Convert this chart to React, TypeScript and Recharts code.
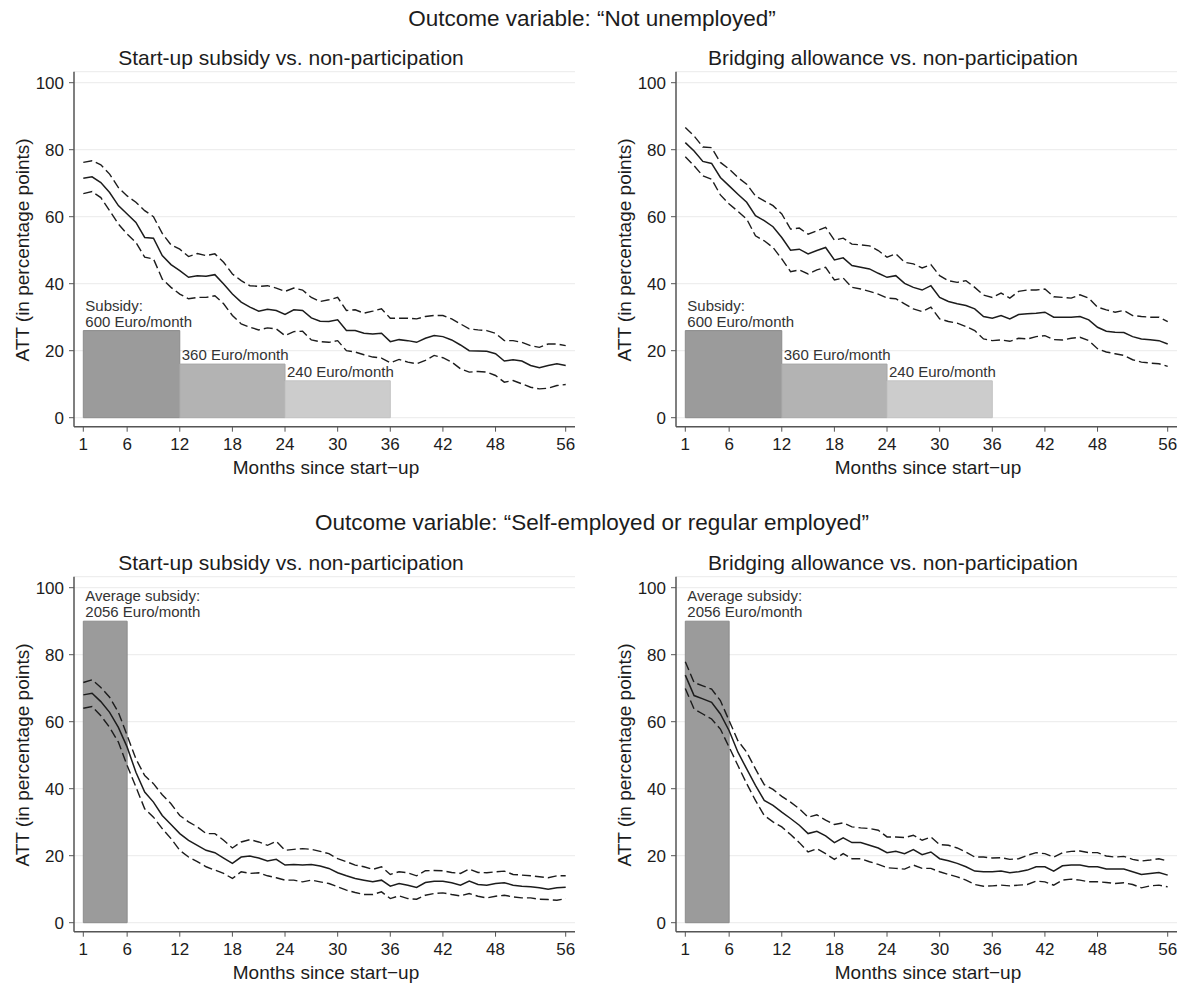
import React from "react"
import { ComposedChart, Line, XAxis, YAxis, CartesianGrid, ReferenceArea } from "recharts"

// months since start-up (x categories)
const MONTHS = [
  1, 2, 3, 4, 5, 6, 7, 8, 9, 10, 11, 12, 13, 14, 15, 16, 17, 18, 19, 20, 21, 22, 23, 24, 25, 26, 27, 28,
  29, 30, 31, 32, 33, 34, 35, 36, 37, 38, 39, 40, 41, 42, 43, 44, 45, 46, 47, 48, 49, 50, 51, 52, 53, 54, 55, 56,
]
const X_TICKS = [1, 6, 12, 18, 24, 30, 36, 42, 48, 56]
const Y_TICKS = [0, 20, 40, 60, 80, 100]

// "Not unemployed" – start-up subsidy
const NU_SUB_ATT = [
  71.5, 71.9, 70.2, 67.2, 63.3, 60.8, 58.3, 53.8, 53.6, 48.4, 45.7, 43.9, 41.9, 42.4, 42.2, 42.7, 39.9, 36.9, 34.5, 33.0,
  31.8, 32.4, 32.0, 30.8, 32.2, 32.0, 29.8, 28.8, 28.7, 29.2, 26.0, 26.0, 25.2, 25.0, 25.2, 22.7, 23.3, 23.0, 22.5, 23.7,
  24.5, 24.2, 23.2, 21.7, 20.0, 19.9, 19.8, 19.1, 16.9, 17.3, 16.9, 15.6, 14.9, 15.6, 16.1, 15.6,
]
const NU_SUB_HI = [
  76.2, 76.7, 75.5, 72.7, 68.7, 66.2, 64.3, 61.8, 60.0, 55.0, 51.6, 50.3, 48.1, 49.0, 48.4, 48.9, 46.4, 42.9, 40.9, 39.4,
  39.2, 39.4, 38.7, 37.7, 38.7, 38.1, 35.9, 34.7, 35.2, 35.9, 32.0, 32.2, 31.2, 31.8, 32.5, 29.7, 29.7, 29.7, 29.5, 30.2,
  30.5, 30.5, 29.5, 28.0, 26.5, 26.2, 26.0, 25.2, 23.0, 23.0, 22.5, 21.5, 21.0, 22.0, 22.0, 21.5,
]
const NU_SUB_LO = [
  66.9, 67.5, 65.7, 61.8, 57.8, 54.8, 52.3, 47.9, 47.4, 41.4, 38.9, 36.9, 35.5, 35.9, 35.9, 36.4, 34.0, 30.5, 28.0, 27.0,
  26.2, 26.8, 26.5, 24.5, 25.7, 25.8, 23.2, 22.7, 22.5, 23.0, 20.0, 19.6, 18.8, 18.1, 17.8, 16.4, 17.4, 16.6, 16.1, 17.1,
  18.6, 17.9, 16.6, 14.6, 13.6, 13.8, 13.6, 12.6, 10.6, 11.1, 10.1, 9.1, 8.6, 8.8, 9.6, 9.9,
]

// "Not unemployed" – bridging allowance
const NU_BRI_ATT = [
  82.1, 79.6, 76.5, 75.9, 71.7, 69.2, 66.7, 64.3, 60.3, 58.8, 57.0, 53.8, 50.0, 50.3, 48.9, 49.9, 50.8, 47.1, 47.7, 45.4,
  44.9, 44.4, 43.1, 41.9, 42.4, 40.1, 38.9, 38.1, 39.4, 35.9, 34.7, 34.0, 33.5, 32.5, 30.2, 29.7, 30.5, 29.5, 30.8, 31.0,
  31.2, 31.5, 30.0, 30.0, 30.0, 30.2, 29.2, 27.0, 25.8, 25.5, 25.4, 24.2, 23.5, 23.3, 23.0, 22.0,
]
const NU_BRI_HI = [
  86.6, 84.1, 80.8, 80.6, 76.2, 74.2, 71.7, 69.7, 66.2, 64.7, 63.3, 60.8, 56.3, 56.6, 54.8, 55.8, 56.8, 53.0, 53.6, 51.8,
  51.6, 51.3, 49.9, 47.9, 48.9, 46.4, 45.9, 44.7, 45.7, 42.4, 40.9, 40.4, 40.9, 38.9, 36.6, 35.9, 37.2, 35.7, 37.7, 38.1,
  38.1, 38.4, 36.1, 35.9, 35.7, 36.7, 35.7, 33.0, 32.2, 31.5, 32.0, 30.5, 30.2, 30.0, 30.0, 28.7,
]
const NU_BRI_LO = [
  77.9, 75.2, 72.2, 71.2, 66.5, 63.8, 61.6, 59.3, 54.3, 52.8, 50.8, 47.4, 43.6, 44.1, 42.9, 44.1, 44.9, 41.1, 41.7, 38.9,
  38.4, 37.7, 36.9, 35.7, 35.5, 34.0, 32.5, 31.7, 33.0, 29.5, 28.7, 28.2, 27.2, 26.0, 23.5, 23.0, 23.2, 22.8, 23.7, 23.5,
  24.2, 24.5, 23.3, 23.2, 23.7, 24.0, 23.0, 20.6, 19.6, 19.1, 18.6, 17.3, 16.6, 16.3, 16.1, 15.3,
]

// "Self-employed or regular employed" – start-up subsidy
const SE_SUB_ATT = [
  68.0, 68.5, 66.0, 62.8, 58.3, 52.4, 44.9, 39.0, 36.0, 32.0, 29.3, 26.6, 24.6, 23.1, 21.6, 20.9, 19.3, 17.7, 19.6, 19.9,
  19.3, 18.4, 18.9, 17.2, 17.4, 17.2, 17.4, 16.9, 16.2, 14.9, 14.0, 13.2, 12.7, 12.2, 12.7, 10.9, 11.7, 11.2, 10.5, 12.0,
  12.4, 12.4, 11.9, 11.2, 12.4, 11.4, 11.2, 11.7, 11.9, 11.2, 10.9, 10.7, 10.4, 10.0, 10.4, 10.6,
]
const SE_SUB_HI = [
  71.7, 72.5, 70.2, 67.3, 62.8, 55.9, 48.9, 43.9, 41.5, 38.2, 35.5, 32.0, 30.1, 28.6, 26.6, 26.6, 24.6, 22.3, 24.1, 24.8,
  24.1, 23.1, 24.3, 21.6, 21.9, 22.1, 21.9, 21.3, 20.6, 19.1, 18.2, 17.2, 16.7, 15.9, 16.7, 14.4, 15.2, 14.9, 14.0, 15.5,
  15.6, 15.5, 15.0, 14.7, 16.0, 15.0, 14.9, 15.2, 15.4, 14.4, 14.2, 14.0, 13.7, 13.4, 14.0, 14.0,
]
const SE_SUB_LO = [
  64.0, 64.5, 61.8, 58.3, 53.9, 46.9, 40.5, 34.0, 31.5, 28.1, 25.1, 21.6, 19.6, 18.2, 16.7, 15.7, 14.7, 13.2, 15.2, 14.7,
  14.9, 14.0, 13.4, 12.7, 12.7, 12.2, 12.7, 12.2, 11.7, 10.7, 9.7, 9.0, 8.4, 8.4, 9.2, 7.2, 8.0, 7.2, 7.0, 8.2,
  8.7, 8.9, 8.4, 8.0, 8.7, 7.9, 7.4, 7.9, 8.2, 7.7, 7.4, 7.4, 7.0, 6.9, 6.7, 7.2,
]

// "Self-employed or regular employed" – bridging allowance
const SE_BRI_ATT = [
  73.9, 67.8, 66.8, 65.8, 62.3, 57.3, 50.9, 45.9, 41.0, 36.5, 35.0, 33.0, 31.1, 29.1, 26.6, 27.3, 25.9, 23.9, 25.3, 23.9,
  23.9, 23.1, 22.3, 20.9, 21.3, 20.6, 21.8, 20.3, 21.1, 19.1, 18.5, 17.7, 16.7, 15.4, 15.2, 15.2, 15.4, 14.9, 15.2, 15.7,
  16.7, 16.7, 15.4, 17.0, 17.2, 17.2, 16.7, 16.7, 16.0, 16.0, 16.0, 15.2, 14.4, 14.7, 15.0, 14.2,
]
const SE_BRI_HI = [
  77.9, 71.7, 70.7, 69.7, 66.3, 60.3, 54.3, 50.9, 45.9, 41.2, 39.8, 37.7, 36.0, 34.0, 31.5, 32.2, 30.6, 29.3, 29.8, 28.6,
  28.3, 28.1, 27.6, 25.6, 25.6, 25.4, 26.1, 24.6, 25.6, 23.3, 23.1, 22.3, 21.1, 19.6, 19.6, 19.3, 19.4, 18.9, 19.1, 20.1,
  20.9, 20.6, 19.6, 20.9, 21.3, 21.4, 20.9, 20.9, 19.9, 19.6, 19.8, 18.9, 18.4, 18.7, 19.1, 18.4,
]
const SE_BRI_LO = [
  69.9, 63.8, 62.3, 60.8, 57.8, 52.4, 46.9, 41.5, 36.5, 32.0, 30.1, 28.6, 26.3, 23.9, 21.1, 22.1, 20.6, 18.9, 20.6, 19.1,
  19.1, 18.2, 17.4, 16.4, 16.2, 16.0, 17.2, 16.2, 16.2, 15.2, 14.4, 13.7, 12.7, 11.4, 10.9, 11.0, 11.2, 11.0, 11.2, 11.4,
  12.4, 12.2, 11.2, 12.7, 13.0, 12.7, 12.2, 12.2, 12.0, 11.7, 11.9, 11.4, 10.4, 11.0, 11.2, 10.7,
]

// subsidy periods (month from / to, bar height in the y units)
const NU_PERIODS = [
  { from: 1, to: 12, value: 26, lines: ["Subsidy:", "600 Euro/month"] },
  { from: 12, to: 24, value: 16, lines: ["360 Euro/month"] },
  { from: 24, to: 36, value: 11, lines: ["240 Euro/month"] },
]
const SE_PERIODS = [{ from: 1, to: 6, value: 90, lines: ["Average subsidy:", "2056 Euro/month"] }]

const PERIOD_FILLS = ["#9b9b9b", "#b3b3b3", "#cccccc"]
const PERIOD_STROKES = ["#8c8c8c", "#a8a8a8", "#c2c2c2"]

const FONT = "'Liberation Sans', Arial, Helvetica, sans-serif"
const INK = "#1c1c1c"
const AXIS = "#555555"

type Period = { from: number; to: number; value: number; lines: string[] }

function PeriodLabel({ viewBox, lines }: any) {
  if (!viewBox) return null
  const { x, y } = viewBox
  return (
    <text x={x + 2} y={y - 4} fontSize={15} fill="#333" fontFamily={FONT}>
      {lines.map((t: string, i: number) => (
        <tspan key={i} x={x + 2} dy={i === 0 ? -(lines.length - 1) * 16 : 16}>
          {t}
        </tspan>
      ))}
    </text>
  )
}

function Panel({
  att,
  hi,
  lo,
  periods,
  left,
  top,
}: {
  att: number[]
  hi: number[]
  lo: number[]
  periods: Period[]
  left: number
  top: number
}) {
  const data = MONTHS.map((m, i) => ({ month: m, att: att[i], hi: hi[i], lo: lo[i] }))
  return (
    <div style={{ position: "absolute", left, top }}>
      <ComposedChart width={592} height={440} data={data} margin={{ top: 31.7, right: 17, bottom: 3.3, left: 24 }}>
        <CartesianGrid horizontal vertical={false} stroke="#ebebeb" strokeWidth={1} />
        {periods.map((p, i) => (
          <ReferenceArea
            key={i}
            x1={p.from}
            x2={p.to}
            y1={0}
            y2={p.value}
            fill={PERIOD_FILLS[i]}
            fillOpacity={1}
            stroke={PERIOD_STROKES[i]}
            strokeWidth={1}
            label={(props: any) => <PeriodLabel {...props} lines={p.lines} />}
          />
        ))}
        <XAxis
          dataKey="month"
          type="number"
          domain={[-0.06, 57.06]}
          ticks={X_TICKS}
          interval={0}
          height={50}
          tickSize={5}
          tickMargin={6}
          axisLine={{ stroke: AXIS, strokeWidth: 1.5 }}
          tickLine={{ stroke: AXIS }}
          tick={{ fill: INK, fontSize: 17, fontFamily: FONT }}
        />
        <YAxis
          type="number"
          domain={[-2.69, 103.28]}
          ticks={Y_TICKS}
          interval={0}
          width={50}
          tickSize={5}
          tickMargin={5}
          axisLine={{ stroke: AXIS, strokeWidth: 1.5 }}
          tickLine={{ stroke: AXIS }}
          tick={{ fill: INK, fontSize: 17, fontFamily: FONT }}
        />
        <Line dataKey="hi" type="linear" stroke={INK} strokeWidth={1.4} strokeDasharray="9 4" dot={false} isAnimationActive={false} />
        <Line dataKey="lo" type="linear" stroke={INK} strokeWidth={1.4} strokeDasharray="9 4" dot={false} isAnimationActive={false} />
        <Line dataKey="att" type="linear" stroke={INK} strokeWidth={1.5} dot={false} isAnimationActive={false} />
      </ComposedChart>
    </div>
  )
}

export default function App() {
  const panels = [
    { att: NU_SUB_ATT, hi: NU_SUB_HI, lo: NU_SUB_LO, periods: NU_PERIODS, left: 0, top: 40, title: "Start-up subsidy vs. non-participation" },
    { att: NU_BRI_ATT, hi: NU_BRI_HI, lo: NU_BRI_LO, periods: NU_PERIODS, left: 602, top: 40, title: "Bridging allowance vs. non-participation" },
    { att: SE_SUB_ATT, hi: SE_SUB_HI, lo: SE_SUB_LO, periods: SE_PERIODS, left: 0, top: 545, title: "Start-up subsidy vs. non-participation" },
    { att: SE_BRI_ATT, hi: SE_BRI_HI, lo: SE_BRI_LO, periods: SE_PERIODS, left: 602, top: 545, title: "Bridging allowance vs. non-participation" },
  ]

  return (
    <div style={{ position: "absolute", left: 0, top: 0, width: 1184, height: 988, background: "#fff", fontFamily: FONT }}>
      {panels.map((p, i) => (
        <Panel key={i} att={p.att} hi={p.hi} lo={p.lo} periods={p.periods} left={p.left} top={p.top} />
      ))}

      {/* titles and axis titles */}
      <svg width={1184} height={988} style={{ position: "absolute", left: 0, top: 0, pointerEvents: "none" }}>
        <g fontFamily={FONT} fill={INK} textAnchor="middle" dominantBaseline="central">
          <text x={592} y={18} fontSize={22.5}>Outcome variable: “Not unemployed”</text>
          <text x={592} y={522} fontSize={22.5}>Outcome variable: “Self-employed or regular employed”</text>
          {panels.map((p, i) => (
            <g key={i}>
              <text x={p.left + 291} y={p.top + 17} fontSize={21}>{p.title}</text>
              <text x={p.left + 326} y={p.top + 427} fontSize={19}>Months since start−up</text>
              <text x={p.left + 22} y={p.top + 210} fontSize={19} transform={`rotate(-90 ${p.left + 22} ${p.top + 210})`}>
                ATT (in percentage points)
              </text>
            </g>
          ))}
        </g>
      </svg>
    </div>
  )
}
